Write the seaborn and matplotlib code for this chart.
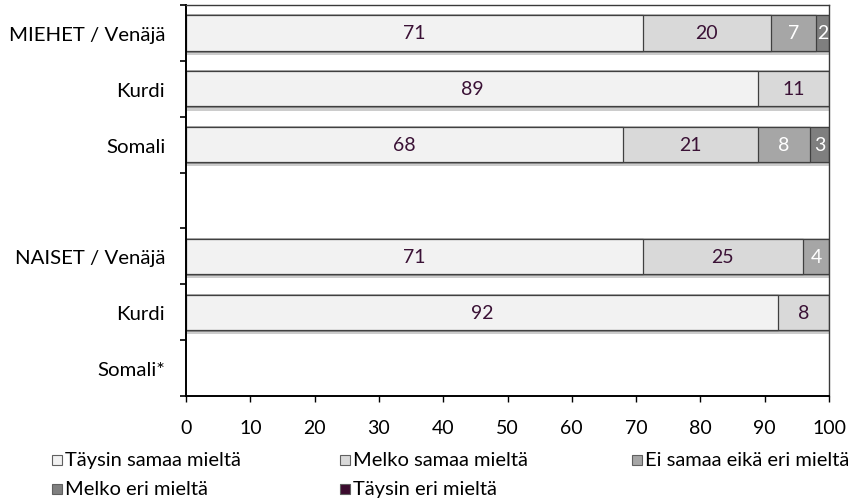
import numpy as np
import pandas as pd
import matplotlib
matplotlib.use("Agg")
import matplotlib.pyplot as plt
import matplotlib.patheffects as pe
from matplotlib.patches import Rectangle
import seaborn as sns

# Group rows (empty label = spacer row between the groups)
rows = ["MIEHET / Venäjä", "Kurdi", "Somali", "", "NAISET / Venäjä", "Kurdi", "Somali*"]

# Response shares (%) per row
taysin_samaa = [71, 89, 68, 0, 71, 92, 0]
melko_samaa = [20, 11, 21, 0, 25, 8, 0]
ei_samaa_eika_eri = [7, 0, 8, 0, 4, 0, 0]
melko_eri = [2, 0, 3, 0, 0, 0, 0]
taysin_eri = [0, 0, 0, 0, 0, 0, 0]

series_names = ["Täysin samaa mieltä", "Melko samaa mieltä", "Ei samaa eikä eri mieltä",
                "Melko eri mieltä", "Täysin eri mieltä"]
series_values = [taysin_samaa, melko_samaa, ei_samaa_eika_eri, melko_eri, taysin_eri]
colors = ["#F2F2F2", "#D9D9D9", "#A6A6A6", "#7F7F7F", "#3B0B2E"]
label_colors = ["#3B1236", "#3B1236", "white", "white", "white"]

xticks = list(range(0, 101, 10))

sns.set_theme(style="white")
plt.rcParams["font.family"] = ["Lato", "DejaVu Sans"]

fig = plt.figure(figsize=(8.5, 5.02), dpi=100)
ax = fig.add_axes([186 / 850, 1 - 397 / 502, (829 - 186) / 850, (397 - 6) / 502])

ids = [str(i) for i in range(len(rows))]
vals = np.array(series_values, dtype=float)
cum = np.cumsum(vals, axis=0)

# Stacked bars: draw cumulative totals from the outermost series inwards
for k in range(len(series_names) - 1, -1, -1):
    df = pd.DataFrame({"row": ids, "value": cum[k]})
    sns.barplot(data=df, x="value", y="row", order=ids, orient="h",
                color=colors[k], saturation=1, width=0.63,
                edgecolor="#404040", linewidth=0.9, ax=ax)

# hide empty bars, soft drop shadow under the full bars
for c in ax.containers:
    for p in c.patches:
        if p.get_width() == 0:
            p.set_visible(False)
for p in ax.containers[0].patches:
    p.set_path_effects([pe.SimplePatchShadow(offset=(0, -3), shadow_rgbFace="#000000", alpha=0.2),
                        pe.Normal()])

# value labels centred in each segment
for k in range(len(series_names)):
    for i in range(len(rows)):
        v = vals[k, i]
        if v > 0:
            ax.text(cum[k, i] - v / 2, i, f"{v:g}", ha="center", va="center",
                    fontsize=14, color=label_colors[k])

ax.set_xlim(0, 100)
ax.set_ylim(len(rows) - 0.5, -0.5)
ax.set_xticks(xticks)
ax.set_xticklabels([str(t) for t in xticks], fontsize=14, color="black")
ax.set_yticks(range(len(rows)))
ax.set_yticklabels(rows, fontsize=14.7, color="black")
ax.set_yticks(np.arange(-0.5, len(rows), 1.0), minor=True)
ax.set_xlabel("")
ax.set_ylabel("")
ax.tick_params(axis="y", which="major", length=0, pad=15)
ax.tick_params(axis="y", which="minor", length=4, width=1.2, color="black", direction="out", left=True)
ax.tick_params(axis="x", which="major", length=4.5, width=1.0, color="black", direction="out",
               bottom=True, pad=12)

for side in ["left", "bottom"]:
    ax.spines[side].set_color("black")
    ax.spines[side].set_linewidth(1.4)
for side in ["top", "right"]:
    ax.spines[side].set_visible(True)
    ax.spines[side].set_color("#3a3a3a")
    ax.spines[side].set_linewidth(1.0)

# legend in three columns below the plot
leg_pos = [(52, 461), (340, 461), (632, 461), (52, 490), (340, 490)]
for k, (px, py) in enumerate(leg_pos):
    s = 10
    fig.add_artist(Rectangle((px / 850, 1 - (py + s / 2) / 502), s / 850, s / 502,
                             transform=fig.transFigure, facecolor=colors[k],
                             edgecolor="#606060", linewidth=0.8))
    fig.text((px + 13) / 850, 1 - py / 502, series_names[k], ha="left", va="center",
             fontsize=14.5, color="black")

fig.savefig("out.png", dpi=100)
